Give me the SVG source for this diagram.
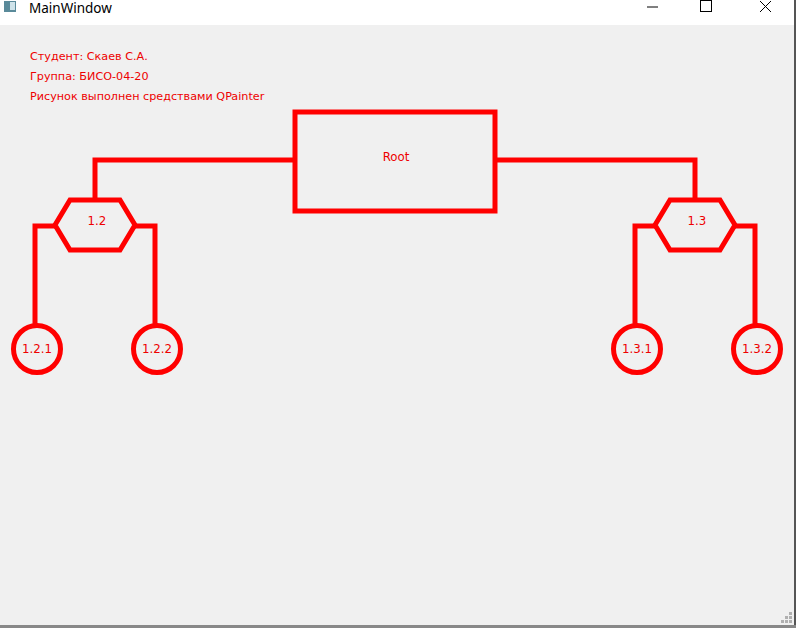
<svg xmlns="http://www.w3.org/2000/svg" width="796" height="628" viewBox="0 0 796 628">
<style>
.ln{fill:none;stroke:#ff0000;stroke-width:5;stroke-linejoin:miter}
.sh{fill:none;stroke:#ff0000;stroke-width:5}
.lbl{font-family:"DejaVu Sans","Liberation Sans",sans-serif;font-size:11.8px;fill:#ee0000;text-anchor:middle}
.info{font-family:"DejaVu Sans","Liberation Sans",sans-serif;font-size:11.2px;fill:#ee0000}
</style>
<rect x="0" y="0" width="796" height="628" fill="#f0f0f0"/>
<g id="titlebar">
<rect x="0" y="0" width="796" height="25" fill="#ffffff"/>
<rect x="4" y="1" width="12" height="11" fill="#5a8a9a"/>
<rect x="10" y="2" width="5" height="8" fill="#cfe3ea"/>
<text x="29" y="13" font-family="'Noto Sans','Liberation Sans',sans-serif" font-size="13.5" fill="#000">MainWindow</text>
<line x1="647" y1="7" x2="658" y2="7" stroke="#000" stroke-width="1"/>
<rect x="700.5" y="0.5" width="11" height="11" fill="none" stroke="#000" stroke-width="1"/>
<path d="M760 1 L771 12 M771 1 L760 12" stroke="#000" stroke-width="1"/>
<line x1="795" y1="0" x2="795" y2="628" stroke="#555" stroke-width="2"/>
<line x1="0" y1="626.5" x2="796" y2="626.5" stroke="#888" stroke-width="3"/>
<g fill="#b0b0b0">
<rect x="789" y="612" width="3" height="3"/>
<rect x="785" y="616" width="3" height="3"/><rect x="789" y="616" width="3" height="3"/>
<rect x="781" y="620" width="3" height="3"/><rect x="785" y="620" width="3" height="3"/><rect x="789" y="620" width="3" height="3"/>
</g>
</g>
<g id="info">
<text class="info" x="30" y="60">Студент: Скаев С.А.</text>
<text class="info" x="30" y="80">Группа: БИСО-04-20</text>
<text class="info" x="30" y="100">Рисунок выполнен средствами QPainter</text>
</g>
<g id="connectors">
<polyline class="ln" points="295,160 95,160 95,200"/>
<polyline class="ln" points="495,160 695,160 695,200"/>
<polyline class="ln" points="55,226 35,226 35,324"/>
<polyline class="ln" points="135,226 155,226 155,324"/>
<polyline class="ln" points="655,226 635,226 635,324"/>
<polyline class="ln" points="735,226 755,226 755,324"/>
</g>
<g id="root">
<rect class="sh" x="295" y="112" width="200" height="99"/>
<text class="lbl" x="396" y="161">Root</text>
</g>
<g id="n1_2">
<polygon class="sh" points="55,225 70,200 120,200 135,225 120,250 70,250"/>
<text class="lbl" x="97" y="225">1.2</text>
</g>
<g id="n1_3">
<polygon class="sh" points="655,225 670,200 720,200 735,225 720,250 670,250"/>
<text class="lbl" x="697" y="225">1.3</text>
</g>
<g id="n1_2_1">
<circle class="sh" cx="37" cy="349" r="23.5"/>
<text class="lbl" x="37" y="353">1.2.1</text>
</g>
<g id="n1_2_2">
<circle class="sh" cx="157" cy="349" r="23.5"/>
<text class="lbl" x="157" y="353">1.2.2</text>
</g>
<g id="n1_3_1">
<circle class="sh" cx="637" cy="349" r="23.5"/>
<text class="lbl" x="637" y="353">1.3.1</text>
</g>
<g id="n1_3_2">
<circle class="sh" cx="757" cy="349" r="23.5"/>
<text class="lbl" x="757" y="353">1.3.2</text>
</g>
</svg>
